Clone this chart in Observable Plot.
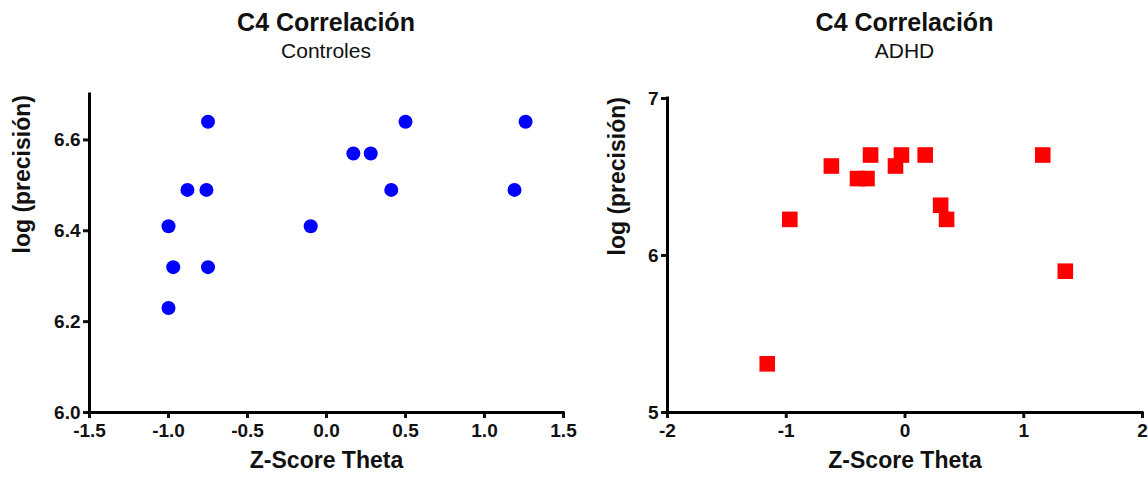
<!DOCTYPE html>
<html><head><meta charset="utf-8">
<script src="https://cdn.jsdelivr.net/npm/d3@7"></script>
<script src="https://cdn.jsdelivr.net/npm/@observablehq/plot@0.6"></script>
<style>
body{margin:0;background:#fff;font-family:"Liberation Sans",Arial,sans-serif;}
#wrap{position:relative;width:1148px;height:477px;overflow:hidden;}
.col{position:absolute;top:0;width:574px;height:477px;}
.title{position:absolute;top:10px;font-weight:bold;font-size:25px;line-height:25px;text-align:center;color:#111;}
.sub{position:absolute;top:40px;font-size:21px;line-height:21px;text-align:center;color:#111;}
.plot{position:absolute;top:70px;left:0;}
</style>
</head><body>
<div id="wrap"></div>
<script>
// Controles
const ctrlX = [-0.75, 0.50, 1.26, 0.17, 0.28, -0.88, -0.76, 0.41, 1.19, -1.00, -0.10, -0.97, -0.75, -1.00];
const ctrlY = [6.64, 6.64, 6.64, 6.57, 6.57, 6.49, 6.49, 6.49, 6.49, 6.41, 6.41, 6.32, 6.32, 6.23];
// ADHD
const adhdX = [-1.16, -0.97, -0.62, -0.40, -0.32, -0.29, -0.08, -0.03, 0.17, 0.30, 0.35, 1.16, 1.35];
const adhdY = [5.31, 6.23, 6.57, 6.49, 6.49, 6.64, 6.57, 6.64, 6.64, 6.32, 6.23, 6.64, 5.90];

const ctrlXTicks = [-1.5, -1.0, -0.5, 0.0, 0.5, 1.0, 1.5];
const ctrlYTicks = [6.0, 6.2, 6.4, 6.6];
const adhdXTicks = [-2, -1, 0, 1, 2];
const adhdYTicks = [5, 6, 7];

const mainTitle = "C4 Correlación";
const subTitles = ["Controles", "ADHD"];
const xLabel = "Z-Score Theta";
const yLabel = "log (precisión)";

function panel(left, cfg) {
  const col = document.createElement("div");
  col.className = "col";
  col.style.left = left + "px";
  const pw = 574 - cfg.ml - cfg.mr;
  const t = document.createElement("div");
  t.className = "title"; t.textContent = mainTitle;
  t.style.left = cfg.ml + "px"; t.style.width = pw + "px";
  const s = document.createElement("div");
  s.className = "sub"; s.textContent = cfg.sub;
  s.style.left = cfg.ml + "px"; s.style.width = pw + "px";
  const data = cfg.xs.map((x, i) => ({x, y: cfg.ys[i]}));
  const chart = Plot.plot({
    width: 574, height: 407,
    marginLeft: cfg.ml, marginRight: cfg.mr, marginTop: cfg.mt, marginBottom: 65,
    style: {fontFamily: "'Liberation Sans', Arial, sans-serif", fontSize: "19px", fontWeight: "bold", color: "#111", background: "transparent", overflow: "visible"},
    x: {domain: cfg.xDomain},
    y: {domain: cfg.yDomain},
    marks: [
      Plot.axisX({ticks: cfg.xTicks, tickFormat: cfg.xFmt, tickSize: 6, tickPadding: 5, strokeWidth: 3, label: null}),
      Plot.axisY({ticks: cfg.yTicks, tickFormat: cfg.yFmt, tickSize: 6, tickPadding: 3, strokeWidth: 3, label: null}),
      Plot.ruleX([cfg.xDomain[0]], {strokeWidth: 3, stroke: "#000", strokeLinecap: "square"}),
      Plot.ruleY([cfg.yDomain[0]], {strokeWidth: 3, stroke: "#000", strokeLinecap: "square"}),
      Plot.dot(data, {x: "x", y: "y", r: cfg.r, fill: cfg.color, stroke: null, symbol: cfg.symbol}),
      Plot.text([xLabel], {text: d => d, frameAnchor: "bottom", dy: 55, fontSize: 23, fontWeight: "bold", fill: "#111"}),
      Plot.text([yLabel], {text: d => d, frameAnchor: "left", rotate: -90, dx: cfg.ydx, fontSize: 23, fontWeight: "bold", fill: "#111"})
    ]
  });
  chart.classList.add("plot");
  col.appendChild(t); col.appendChild(s); col.appendChild(chart);
  document.getElementById("wrap").appendChild(col);
}

panel(0, {
  sub: subTitles[0], xs: ctrlX, ys: ctrlY, ml: 89, mr: 11, mt: 24,
  xDomain: [-1.5, 1.5], yDomain: [6.0, 6.7], xTicks: ctrlXTicks, yTicks: ctrlYTicks,
  xFmt: d => d.toFixed(1), yFmt: d => d.toFixed(1),
  color: "#0000ff", symbol: "circle", r: 7, ydx: -67
});
panel(574, {
  sub: subTitles[1], xs: adhdX, ys: adhdY, ml: 93, mr: 6, mt: 28,
  xDomain: [-2, 2], yDomain: [5, 7], xTicks: adhdXTicks, yTicks: adhdYTicks,
  xFmt: d => String(d), yFmt: d => String(d),
  color: "#ff0000", symbol: "square", r: 8.8, ydx: -50
});
</script>
</body></html>
